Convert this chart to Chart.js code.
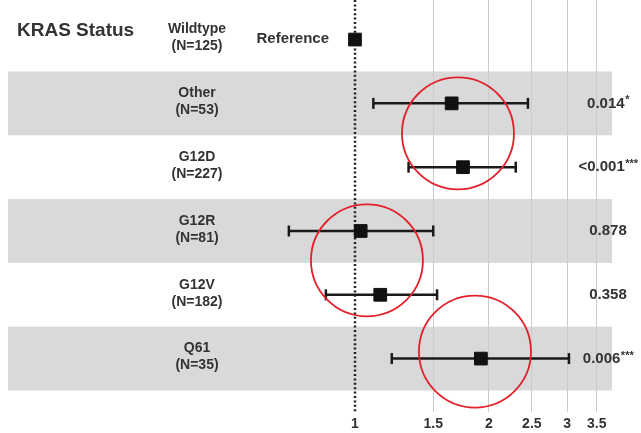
<!DOCTYPE html>
<html>
<head>
<meta charset="utf-8">
<script src="https://cdn.jsdelivr.net/npm/chart.js@4"></script>
<style>
    html, body { margin: 0; padding: 0; background: #fff; }
    #wrap { position: relative; width: 641px; height: 433px; }
</style>
</head>
<body>
<div id="wrap"><canvas id="forest"></canvas></div>
<script>
// KRAS subgroups, hazard ratios vs wildtype with 95% CI
var groups = ['Wildtype', 'Other', 'G12D', 'G12R', 'G12V', 'Q61'];
var counts = [125, 53, 227, 81, 182, 35];
var hazardRatio = [1, 1.65, 1.75, 1.03, 1.14, 1.92];
var ciLower = [null, 1.10, 1.32, 0.71, 0.86, 1.21];
var ciUpper = [null, 2.45, 2.30, 1.50, 1.53, 3.03];
var pValues = ['', '0.014', '<0.001', '0.878', '0.358', '0.006'];
var pStars = ['', '*', '***', '', '', '***'];
var xTicks = [1, 1.5, 2, 2.5, 3, 3.5];
var referenceValue = 1;
// red rings marking groups of interest (hazard ratio, row position)
var highlightX = [1.705, 1.064, 1.862];
var highlightY = [1.47, 3.46, 4.89];

var FONT = "'Liberation Sans', Arial, sans-serif";
var TEXT = '#333333';

var whiskers = groups.map(function(g, i) {
    if (ciLower[i] === null) return null;
    return {
        type: 'scatter',
        showLine: true,
        clip: false,
        data: [{ x: ciLower[i], y: i }, { x: ciUpper[i], y: i }],
        borderColor: '#1a1a1a',
        borderWidth: 2.5,
        pointStyle: 'line',
        rotation: 90,
        pointRadius: 5.5,
        pointHoverRadius: 5.5,
        pointBorderWidth: 2.5,
        pointBorderColor: '#1a1a1a',
        order: 2
    };
}).filter(Boolean);

var squares = {
    type: 'scatter',
    clip: false,
    data: hazardRatio.map(function(v, i) { return { x: v, y: i }; }),
    pointStyle: 'rect',
    pointRadius: 9,
    pointHoverRadius: 9,
    backgroundColor: '#111',
    borderColor: '#111',
    borderWidth: 1,
    order: 1
};

var rings = {
    type: 'scatter',
    clip: false,
    data: highlightX.map(function(v, i) { return { x: v, y: highlightY[i] }; }),
    pointStyle: 'circle',
    pointRadius: 56,
    pointHoverRadius: 56,
    backgroundColor: 'rgba(0,0,0,0)',
    borderColor: '#e3212b',
    borderWidth: 1.8,
    order: 0
};

// shaded bands behind alternating rows
var bandPlugin = {
    id: 'bands',
    beforeDraw: function(chart) {
        var ctx = chart.ctx, area = chart.chartArea, y = chart.scales.y;
        ctx.save();
        ctx.fillStyle = '#d9d9d9';
        groups.forEach(function(g, i) {
            if (i % 2 === 0) return;
            var top = y.getPixelForValue(i - 0.5);
            var bottom = y.getPixelForValue(i + 0.5);
            ctx.fillRect(area.left, top, area.right - area.left, bottom - top);
        });
        ctx.restore();
    }
};

// dotted line at HR = 1
var refLinePlugin = {
    id: 'refLine',
    beforeDatasetsDraw: function(chart) {
        var ctx = chart.ctx, area = chart.chartArea;
        var x = Math.round(chart.scales.x.getPixelForValue(referenceValue));
        ctx.save();
        ctx.strokeStyle = '#222';
        ctx.lineWidth = 2.5;
        ctx.setLineDash([2, 2.4]);
        ctx.beginPath();
        ctx.moveTo(x, area.top);
        ctx.lineTo(x, area.bottom);
        ctx.stroke();
        ctx.restore();
    }
};

// row labels, header and p-values
var labelPlugin = {
    id: 'labels',
    afterDatasetsDraw: function(chart) {
        var ctx = chart.ctx, y = chart.scales.y;
        ctx.save();
        ctx.fillStyle = TEXT;
        ctx.textBaseline = 'middle';

        ctx.font = 'bold 19px ' + FONT;
        ctx.textAlign = 'left';
        ctx.fillText('KRAS Status', 17, 31);

        ctx.font = 'bold 15px ' + FONT;
        ctx.textAlign = 'right';
        ctx.fillText('Reference', 329, y.getPixelForValue(0) - 1);

        groups.forEach(function(g, i) {
            var py = y.getPixelForValue(i);
            ctx.font = 'bold 14px ' + FONT;
            ctx.textAlign = 'center';
            ctx.fillText(g, 197, py - 10);
            ctx.fillText('(N=' + counts[i] + ')', 197, py + 7);

            if (!pValues[i]) return;
            ctx.font = 'bold 15px ' + FONT;
            var main = ctx.measureText(pValues[i]).width;
            ctx.font = 'bold 11px ' + FONT;
            var sup = pStars[i] ? ctx.measureText(pStars[i]).width : 0;
            var left = 608 - (main + sup) / 2;
            ctx.textAlign = 'left';
            ctx.font = 'bold 15px ' + FONT;
            ctx.fillText(pValues[i], left, py);
            if (pStars[i]) {
                ctx.font = 'bold 11px ' + FONT;
                ctx.fillText(pStars[i], left + main + 0.5, py - 3);
            }
        });
        ctx.restore();
    }
};

new Chart(document.getElementById('forest'), {
    type: 'scatter',
    data: { datasets: whiskers.concat([squares, rings]) },
    options: {
        responsive: true,
        maintainAspectRatio: false,
        animation: false,
        events: [],
        layout: { autoPadding: false, padding: { left: 8, right: 29, top: 0, bottom: -4 } },
        plugins: { legend: { display: false }, tooltip: { enabled: false } },
        scales: {
            x: {
                type: 'logarithmic',
                min: 0.1657,
                max: 3.787,
                afterBuildTicks: function(axis) {
                    axis.ticks = xTicks.map(function(v) { return { value: v }; });
                },
                border: { display: false },
                grid: {
                    drawTicks: false,
                    lineWidth: 1,
                    color: function(c) {
                        return c.tick && c.tick.value === referenceValue ? 'rgba(0,0,0,0)' : '#cbcbcb';
                    }
                },
                ticks: {
                    padding: 4,
                    color: TEXT,
                    font: { family: FONT, size: 14, weight: 'bold' },
                    callback: function(v) { return String(v); }
                }
            },
            y: {
                type: 'linear',
                reverse: true,
                min: -0.62,
                max: 5.84,
                display: false
            }
        }
    },
    plugins: [bandPlugin, refLinePlugin, labelPlugin]
});
</script>
</body>
</html>
